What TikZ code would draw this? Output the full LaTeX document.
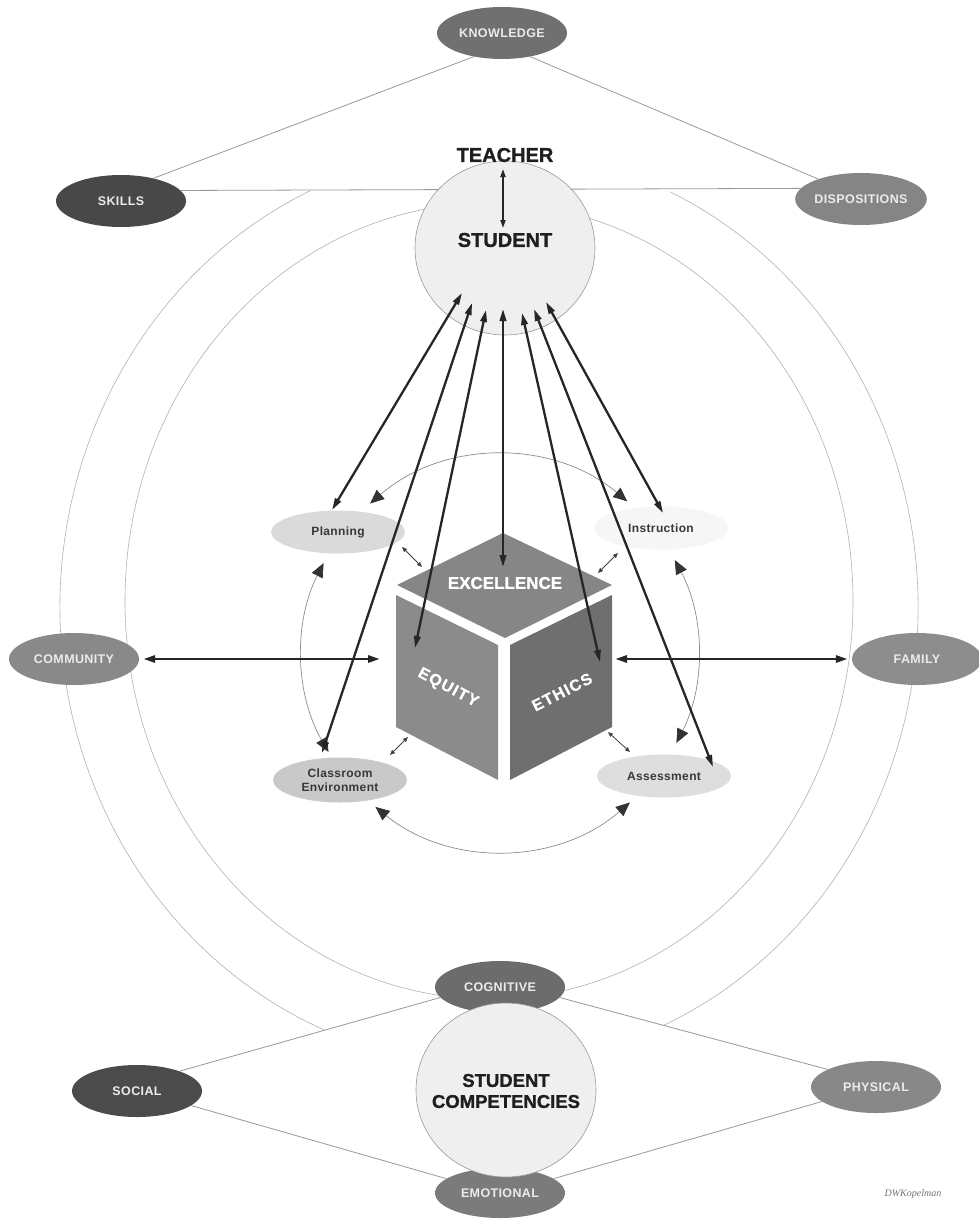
\documentclass[tikz,border=0pt]{standalone}
\usepackage{fontspec}
\setmainfont{Liberation Sans}
\newfontfamily\sigfont{Liberation Serif}
\newfontfamily\heavyfont{Liberation Sans}[BoldFeatures={FakeBold=1.2}]
\newfontfamily\cubefont{Liberation Sans}[LetterSpace=8, BoldFeatures={FakeBold=0.6}]
\newfontfamily\lblfont{Liberation Sans}[LetterSpace=3]
\usetikzlibrary{arrows.meta,shapes.geometric,calc}
\pgfdeclarelayer{bg}
\pgfdeclarelayer{lines}
\pgfsetlayers{bg,lines,main}
\definecolor{cKnow}{HTML}{707070}
\definecolor{cSkills}{HTML}{484848}
\definecolor{cDisp}{HTML}{858585}
\definecolor{cComm}{HTML}{898989}
\definecolor{cFam}{HTML}{8D8D8D}
\definecolor{cCog}{HTML}{6C6C6C}
\definecolor{cSoc}{HTML}{4B4B4B}
\definecolor{cPhys}{HTML}{888888}
\definecolor{cEmo}{HTML}{7B7B7B}
\definecolor{cStu}{HTML}{EFEFEF}
\definecolor{cPlan}{HTML}{DADADA}
\definecolor{cInstr}{HTML}{F6F6F6}
\definecolor{cClass}{HTML}{C9C9C9}
\definecolor{cAssess}{HTML}{DEDEDE}
\definecolor{cTop}{HTML}{868686}
\definecolor{cLeft}{HTML}{8B8B8B}
\definecolor{cRight}{HTML}{6F6F6F}
\begin{document}
\begin{tikzpicture}[x=1pt,y=1pt,
  bigell/.style={ellipse, minimum width=130pt, minimum height=52pt, inner sep=0pt,
    text=white!92!black, font=\lblfont\fontsize{12.5}{13}\selectfont\bfseries},
  smallell/.style={ellipse, minimum width=134pt, minimum height=43pt, inner sep=0pt,
    text=black!78, font=\lblfont\fontsize{12}{13.5}\selectfont\bfseries, align=center},
  stucirc/.style={ellipse, minimum width=180pt, minimum height=174pt, inner sep=0pt,
    fill=cStu, draw=black!40, line width=0.6pt},
  bigtxt/.style={inner sep=0pt, text=black!88, font=\heavyfont\fontsize{20}{21}\selectfont\bfseries},
  comptxt/.style={inner sep=0pt, text=black!88, align=center, font=\heavyfont\fontsize{18.5}{21}\selectfont\bfseries},
  cubelbl/.style={inner sep=0pt, text=white, font=\heavyfont\fontsize{17}{18}\selectfont\bfseries},
  cubeside/.style={inner sep=0pt, text=white, font=\cubefont\fontsize{16}{17}\selectfont\bfseries},
  thinline/.style={draw=black!40, line width=0.8pt},
  arcline/.style={draw=black!30, line width=0.6pt},
  bigarrow/.style={draw=black!85, line width=2.3pt,
    {Triangle[length=12pt,width=6.5pt]}-{Triangle[length=12pt,width=6.5pt]}},
  harrow/.style={draw=black!85, line width=2.8pt,
    {Triangle[length=12pt,width=7pt]}-{Triangle[length=12pt,width=7pt]}},
  tsarrow/.style={draw=black!85, line width=1.8pt,
    {Triangle[length=8pt,width=5pt]}-{Triangle[length=8pt,width=5pt]}},
  ringarrow/.style={draw=black!45, line width=0.7pt,
    {Triangle[length=14pt,width=12pt,color=black!80]}-{Triangle[length=14pt,width=12pt,color=black!80]}},
  smallarrow/.style={draw=black!75, line width=0.8pt,
    {Triangle[length=5pt,width=4pt]}-{Triangle[length=5pt,width=4pt]}},
  sig/.style={inner sep=0pt, text=black!55, font=\sigfont\itshape\fontsize{10}{10}\selectfont}
]
\begin{pgfonlayer}{bg}
  \fill[white] (0,0) rectangle (979,-1220);
\end{pgfonlayer}
\useasboundingbox (0,0) rectangle (979,-1220);

% ---- outer ellipse nodes ----
\node[bigell, fill=cKnow]  (know)   at (502,-33)  {KNOWLEDGE};
\node[bigell, fill=cSkills](skills) at (121,-201) {SKILLS};
\node[bigell, fill=cDisp]  (disp)   at (861,-199) {DISPOSITIONS};
\node[bigell, fill=cComm]  (comm)   at (74,-659)  {COMMUNITY};
\node[bigell, fill=cFam]   (fam)    at (917,-659) {FAMILY};
\node[bigell, fill=cCog]   (cog)    at (500,-987) {COGNITIVE};
\node[bigell, fill=cSoc]   (social) at (137,-1091){SOCIAL};
\node[bigell, fill=cPhys]  (phys)   at (876,-1087){PHYSICAL};
\node[bigell, fill=cEmo, minimum height=50pt] (emo) at (500,-1193){EMOTIONAL};

% ---- student circles ----
\node[stucirc] (stu) at (505,-248) {};
\node[bigtxt] (stutxt) at (505,-240) {STUDENT};
\node[bigtxt] (teach) at (505,-155) {TEACHER};
\node[stucirc] (sc) at (506,-1090) {};
\node[comptxt] (sctxt) at (506,-1091) {STUDENT\\COMPETENCIES};

% ---- background lines ----
\begin{pgfonlayer}{lines}
  \draw[arcline] (489,-601) ellipse [x radius=364, y radius=398];
  \draw[arcline] (489,-607) ++(114.6:429 and 458) arc[start angle=114.6, end angle=247.5, x radius=429, y radius=458];
  \draw[arcline] (489,-607) ++(65:429 and 458) arc[start angle=65, end angle=-66, x radius=429, y radius=458];
  \draw[thinline] (know.220) -- (skills.35);
  \draw[thinline] (know.320) -- (disp.155);
  \draw[thinline] (skills.10) -- (disp.170);
  \draw[thinline] (social.25) -- (cog.190);
  \draw[thinline] (cog.-10) -- (phys.160);
  \draw[thinline] (social.-15) -- (emo.165);
  \draw[thinline] (phys.195) -- (emo.15);
\end{pgfonlayer}

% ---- small ellipses ----
\node[smallell, fill=cPlan]   (plan)   at (338,-532) {Planning};
\node[smallell, fill=cInstr]  (instr)  at (661,-528) {Instruction};
\node[smallell, fill=cClass, minimum height=45pt] (class) at (340,-780) {Classroom\\Environment};
\node[smallell, fill=cAssess] (assess) at (664,-776) {Assessment};

% ---- cube ----
\fill[cTop]   (503,-533) -- (612,-585) -- (505,-638) -- (397,-585) -- cycle;
\fill[cLeft]  (396,-595) -- (498,-645) -- (498,-780) -- (396,-727) -- cycle;
\fill[cRight] (510,-645) -- (612,-595) -- (612,-727) -- (510,-780) -- cycle;
\node[cubelbl] (exc) at (505,-583) {EXCELLENCE};
\node[cubeside, rotate=-28] (equ) at (448,-688) {EQUITY};
\node[cubeside, rotate=27] (eth) at (562,-692) {ETHICS};

% ---- ring of curved arrows ----
\coordinate (rc) at (500,-653);
\draw[ringarrow] (rc) ++(131:198) arc[start angle=131, end angle=50, radius=198];
\draw[ringarrow] (rc) ++(153:198) arc[start angle=153, end angle=210, radius=198];
\draw[ringarrow] (rc) ++(28:198) arc[start angle=28, end angle=-27, radius=198];
\draw[ringarrow] (rc) ++(231:198) arc[start angle=231, end angle=311, radius=198];

% ---- small cube arrows ----
\coordinate (pa) at (402,-547); \coordinate (pb) at (422,-567);
\coordinate (ia) at (618,-553); \coordinate (ib) at (598,-573);
\coordinate (ca) at (390,-755); \coordinate (cb) at (408,-737);
\coordinate (aa) at (630,-752); \coordinate (ab) at (608,-732);
\draw[smallarrow] (pa) -- (pb);
\draw[smallarrow] (ia) -- (ib);
\draw[smallarrow] (ca) -- (cb);
\draw[smallarrow] (aa) -- (ab);

% ---- teacher-student arrow ----
\coordinate (ta) at (503,-169); \coordinate (tb) at (503,-228);
\draw[tsarrow] (ta) -- (tb);

% ---- long arrows from student ----
\coordinate (s1) at (462,-293); \coordinate (p1) at (332,-510);
\coordinate (s2) at (472,-303); \coordinate (c1) at (322,-753);
\coordinate (s3) at (486,-310); \coordinate (e1) at (415,-648);
\coordinate (s4) at (503,-309); \coordinate (x1) at (503,-567);
\coordinate (s5) at (522,-313); \coordinate (t1) at (600,-662);
\coordinate (s6) at (534,-309); \coordinate (a1) at (713,-767);
\coordinate (s7) at (546,-302); \coordinate (i1) at (663,-513);
\draw[bigarrow] (s1) -- (p1);
\draw[bigarrow] (s2) -- (c1);
\draw[bigarrow] (s3) -- (e1);
\draw[bigarrow] (s4) -- (x1);
\draw[bigarrow] (s5) -- (t1);
\draw[bigarrow] (s6) -- (a1);
\draw[bigarrow] (s7) -- (i1);

% ---- horizontal arrows ----
\coordinate (cubeL) at (380,-659);
\coordinate (cubeR) at (615,-659);
\draw[harrow] ([xshift=4pt]comm.east) -- (cubeL);
\draw[harrow] (cubeR) -- ([xshift=-4pt]fam.west);

% ---- signature ----
\node[sig] (signature) at (913,-1194) {DWKopelman};
\end{tikzpicture}
\end{document}
